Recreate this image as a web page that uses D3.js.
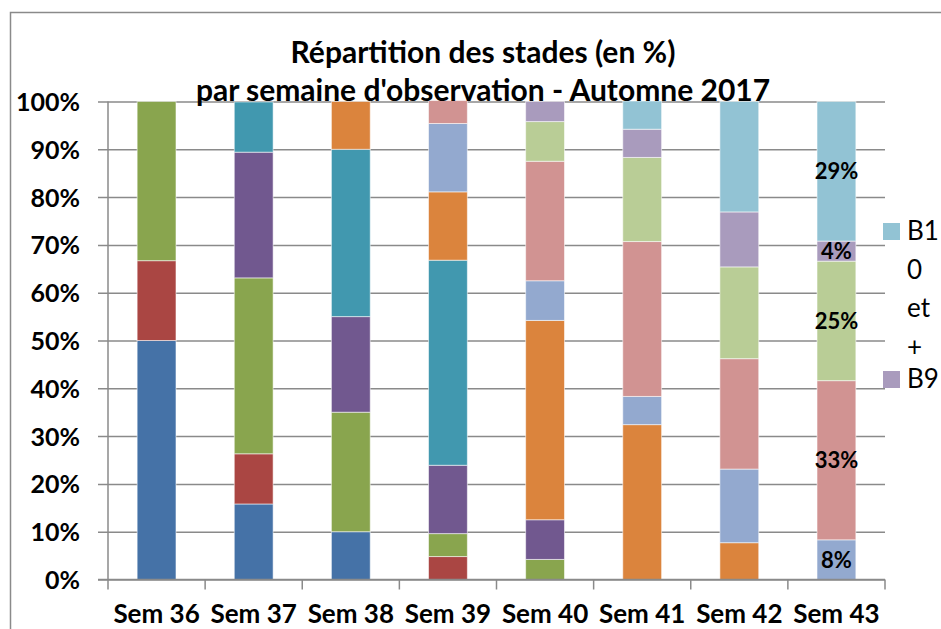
<!DOCTYPE html>
<html>
<head>
<meta charset="utf-8">
<script src="https://cdn.jsdelivr.net/npm/d3@7/dist/d3.min.js"></script>
<style>
  html, body { margin: 0; padding: 0; background: #fff; }
  svg { display: block; }
  text { font-family: Lato, "Open Sans", sans-serif; }
</style>
</head>
<body>
<svg id="chart" width="941" height="629"></svg>
<script>
// ---- DATA ----
const categories = ["Sem 36", "Sem 37", "Sem 38", "Sem 39", "Sem 40", "Sem 41", "Sem 42", "Sem 43"];
const seriesNames = ["B0", "B1", "B2", "B3", "B4", "B5", "B6", "B7", "B8", "B9", "B10 et +"];
const B0  = [50.0, 15.8, 10.0, 0,    0,    0,    0,    0];
const B1  = [16.7, 10.5, 0,    4.8,  0,    0,    0,    0];
const B2  = [33.3, 36.8, 25.0, 4.8,  4.2,  0,    0,    0];
const B3  = [0,    26.3, 20.0, 14.3, 8.3,  0,    0,    0];
const B4  = [0,    10.5, 35.0, 42.9, 0,    0,    0,    0];
const B5  = [0,    0,    10.0, 14.3, 41.7, 32.4, 7.7,  0];
const B6  = [0,    0,    0,    14.3, 8.3,  5.9,  15.4, 8.3];
const B7  = [0,    0,    0,    4.8,  25.0, 32.4, 23.1, 33.3];
const B8  = [0,    0,    0,    0,    8.3,  17.6, 19.2, 25.0];
const B9  = [0,    0,    0,    0,    4.2,  5.9,  11.5, 4.2];
const B10 = [0,    0,    0,    0,    0,    5.9,  23.1, 29.2];
const seriesValues = [B0, B1, B2, B3, B4, B5, B6, B7, B8, B9, B10];
const colors = ["#4572A7", "#AA4643", "#89A54E", "#71588F", "#4198AF", "#DB843D",
                "#93A9CF", "#D19392", "#B9CD96", "#A99BBD", "#92C3D4"];
const yTicks = [0, 10, 20, 30, 40, 50, 60, 70, 80, 90, 100];
const titleLines = ["Répartition des stades (en %)", "par semaine d'observation - Automne 2017"];
const labelledCategory = "Sem 43";
// legend (only the entries that fit are visible in the original)
const legendEntries = [
  { name: "B10 et +", lines: ["B1", "0", "et", "+"] },
  { name: "B9", lines: ["B9"] }
];

// ---- BUILD ----
const svg = d3.select("#chart");
const W = 941, H = 629;
const plot = { left: 108, right: 885, top: 101.5, bottom: 579.5 };

// outer chart border
svg.append("rect")
  .attr("x", 10.5).attr("y", 12.5)
  .attr("width", W + 20).attr("height", H + 20)
  .attr("fill", "none").attr("stroke", "#8a8a8a").attr("stroke-width", 1.5);

const x = d3.scaleBand().domain(categories).range([plot.left, plot.right]).paddingInner(0.6).paddingOuter(0.3);
const xOuter = d3.scaleBand().domain(categories).range([plot.left, plot.right]);
const y = d3.scaleLinear().domain([0, 100]).range([plot.bottom, plot.top]);

// rows for stacking
const rows = categories.map((c, i) => {
  const r = { cat: c };
  seriesNames.forEach((s, j) => r[s] = seriesValues[j][i]);
  return r;
});
const stack = d3.stack().keys(seriesNames)(rows);

// gridlines + y ticks
const yAxis = d3.axisLeft(y).tickValues(yTicks).tickSize(-(plot.right - plot.left)).tickFormat(d => d + "%").tickPadding(28);
const gy = svg.append("g").attr("transform", `translate(${plot.left},0)`).call(yAxis);
gy.select(".domain").remove();
gy.selectAll(".tick line").attr("stroke", "#8a8a8a").attr("stroke-width", 1.5).attr("x1", -10);
gy.selectAll(".tick text")
  .attr("font-size", 25).attr("font-weight", "bold").attr("fill", "#000")
  .attr("font-family", "Lato, sans-serif").attr("dy", "0.36em");

// bars
svg.append("g").selectAll("g").data(stack).join("g")
  .attr("fill", (d, i) => colors[i])
  .selectAll("rect").data(d => d.filter(p => p[1] - p[0] > 0)).join("rect")
  .attr("x", d => x(d.data.cat))
  .attr("width", x.bandwidth())
  .attr("y", d => y(d[1]))
  .attr("height", d => y(d[0]) - y(d[1]))
  .attr("stroke", "rgba(255,255,255,0.55)").attr("stroke-width", 1);

// x axis
const xAxis = d3.axisBottom(xOuter).tickSize(0).tickPadding(0);
const gx = svg.append("g").attr("transform", `translate(0,${plot.bottom})`).call(xAxis);
gx.select(".domain").remove();
gx.selectAll(".tick text")
  .attr("font-size", 26).attr("font-weight", "bold").attr("fill", "#000")
  .attr("font-family", "Lato, sans-serif").attr("dy", 0).attr("y", 43);
// axis lines & boundary ticks
svg.append("line").attr("x1", plot.left).attr("x2", plot.left).attr("y1", plot.top).attr("y2", plot.bottom + 10)
  .attr("stroke", "#8a8a8a").attr("stroke-width", 1.5);
svg.append("line").attr("x1", plot.left - 10).attr("x2", plot.right).attr("y1", plot.bottom).attr("y2", plot.bottom)
  .attr("stroke", "#8a8a8a").attr("stroke-width", 1.5);
svg.append("g").selectAll("line").data(categories).join("line")
  .attr("x1", d => xOuter(d) + xOuter.bandwidth()).attr("x2", d => xOuter(d) + xOuter.bandwidth())
  .attr("y1", plot.bottom).attr("y2", plot.bottom + 10)
  .attr("stroke", "#8a8a8a").attr("stroke-width", 1.5);

// data labels on one category
const ci = categories.indexOf(labelledCategory);
svg.append("g").selectAll("text")
  .data(stack.map(s => s[ci]).filter(p => p[1] - p[0] > 0))
  .join("text")
  .attr("x", d => x(d.data.cat) + x.bandwidth() / 2)
  .attr("y", d => y((d[0] + d[1]) / 2))
  .attr("dy", "0.36em")
  .attr("text-anchor", "middle")
  .attr("font-size", 22).attr("font-weight", "bold").attr("fill", "#000")
  .text(d => Math.round(d[1] - d[0]) + "%");

// title
svg.append("g").selectAll("text").data(titleLines).join("text")
  .attr("x", 483).attr("y", (d, i) => 63 + i * 38)
  .attr("text-anchor", "middle")
  .attr("font-size", 30).attr("font-weight", "bold").attr("fill", "#000")
  .text(d => d);

// legend
const lg = svg.append("g");
let ly = 223;
legendEntries.forEach(e => {
  const idx = seriesNames.indexOf(e.name);
  lg.append("rect").attr("x", 883).attr("y", ly).attr("width", 17).attr("height", 17).attr("fill", colors[idx]);
  e.lines.forEach((ln, k) => {
    lg.append("text").attr("x", 907).attr("y", ly + 17 + k * 38.5)
      .attr("font-size", 26).attr("fill", "#000").text(ln);
  });
  ly += 148;
});
</script>
</body>
</html>
